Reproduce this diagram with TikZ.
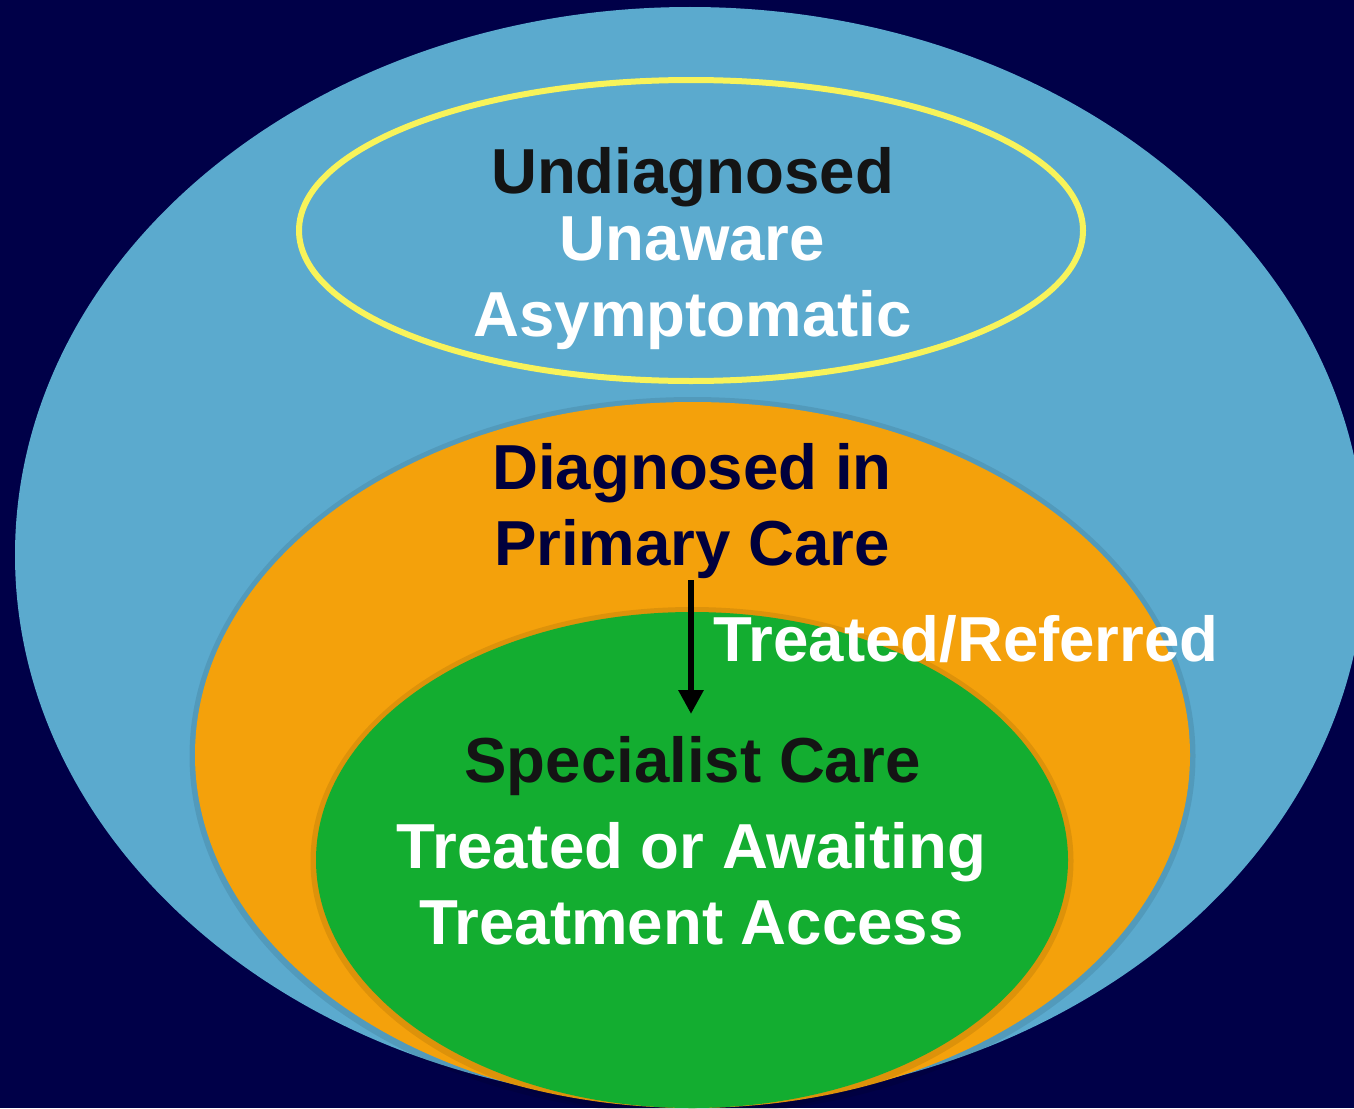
\documentclass[tikz,border=0pt]{standalone}
\usepackage{fontspec}
\setmainfont{Liberation Sans}
\usetikzlibrary{shapes.geometric,arrows.meta}
\definecolor{bgnavy}{HTML}{000048}
\definecolor{skyblue}{HTML}{5BAACE}
\definecolor{orangefill}{HTML}{F4A10B}
\definecolor{greenfill}{HTML}{13AD30}
\definecolor{yellowline}{HTML}{F8F35A}
\definecolor{darktext}{HTML}{141414}
\definecolor{navytext}{HTML}{00003C}
\tikzset{
  blob/.style={ellipse, inner sep=0pt, draw=none},
  shade ring/.style={ellipse, inner sep=0pt, draw=black, draw opacity=0.09, line width=7pt, fill=none},
  lbl/.style={inner sep=0pt, anchor=base, font=\fontsize{63.6}{70}\selectfont\bfseries},
  flow/.style={line width=6pt, -{Triangle[width=24pt,length=24pt]}}
}
\begin{document}
\begin{tikzpicture}[x=1pt,y=-1pt]
\fill[bgnavy] (0,0) rectangle (1354,1108);
\useasboundingbox (0,0) rectangle (1354,1108);
\begin{scope}
\clip (0,0) rectangle (1354,1108);
% outer blue ellipse
\node[blob, fill=skyblue, minimum width=1350pt, minimum height=1096pt] (outer) at (690,555) {};
% yellow outlined ellipse
\node[blob, draw=yellowline, line width=6pt, minimum width=784pt, minimum height=301pt] (undiag) at (691,230.5) {};
% orange ellipse
\node[shade ring, minimum width=999pt, minimum height=711pt] (orshadow) at (692.5,756) {};
\node[blob, fill=orangefill, minimum width=995pt, minimum height=706pt] (primary) at (692.5,755) {};
% green ellipse
\node[shade ring, minimum width=756pt, minimum height=501pt] (grshadow) at (692,861) {};
\node[blob, fill=greenfill, minimum width=752pt, minimum height=496pt] (special) at (692,860) {};
\end{scope}
% texts
\node[lbl, text=darktext] (t1) at (692.5,193) {Undiagnosed};
\node[lbl, text=white] (t2) at (692.5,260) {Unaware};
\node[lbl, text=white] (t3) at (692.5,336) {Asymptomatic};
\node[lbl, text=navytext] (t4) at (692,489) {Diagnosed in};
\node[lbl, text=navytext] (t5) at (692,565) {Primary Care};
\node[lbl, text=white, anchor=base west] (t6) at (713,661) {Treated/Referred};
\node[lbl, text=darktext] (t7) at (692.5,782) {Specialist Care};
\node[lbl, text=white] (t8) at (691.5,868) {Treated or Awaiting};
\node[lbl, text=white] (t9) at (691.5,944) {Treatment Access};
% arrow
\coordinate (arrtop) at (691,580);
\coordinate (arrtip) at (691,714);
\draw[flow] (arrtop) -- (arrtip);
\end{tikzpicture}
\end{document}
